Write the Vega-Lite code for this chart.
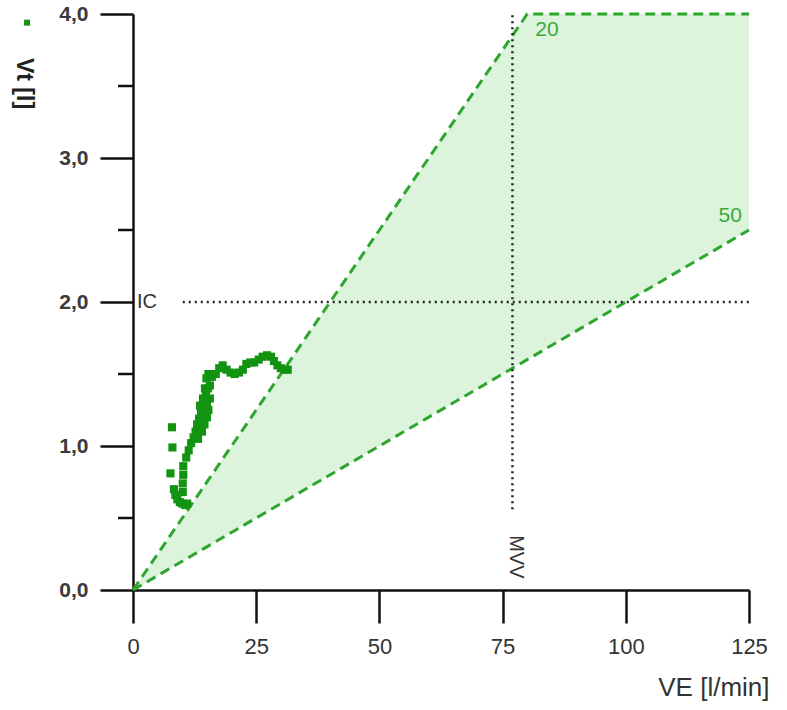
{
  "$schema": "https://vega.github.io/schema/vega-lite/v6.json",
  "width": 616,
  "height": 576,
  "autosize": "none",
  "padding": {"left": 133, "top": 14, "right": 38, "bottom": 120},
  "background": "white",
  "config": {
    "view": {"stroke": null},
    "font": "Liberation Sans"
  },
  "datasets": {
    "breath": [
      {"ve": 7.9, "vt": 1.13}, {"ve": 8.0, "vt": 0.99}, {"ve": 7.6, "vt": 0.81},
      {"ve": 8.3, "vt": 0.70}, {"ve": 8.6, "vt": 0.66}, {"ve": 9.0, "vt": 0.63}, {"ve": 9.5, "vt": 0.61}, {"ve": 10.0, "vt": 0.60}, {"ve": 10.6, "vt": 0.59}, {"ve": 11.0, "vt": 0.60},
      {"ve": 10.1, "vt": 0.68}, {"ve": 10.1, "vt": 0.74}, {"ve": 10.2, "vt": 0.80}, {"ve": 10.2, "vt": 0.86},
      {"ve": 10.8, "vt": 0.92}, {"ve": 11.3, "vt": 0.97}, {"ve": 11.8, "vt": 1.02}, {"ve": 12.3, "vt": 1.06}, {"ve": 12.7, "vt": 1.10}, {"ve": 13.0, "vt": 1.15}, {"ve": 13.4, "vt": 1.19}, {"ve": 13.8, "vt": 1.23}, {"ve": 14.2, "vt": 1.27}, {"ve": 14.6, "vt": 1.31},
      {"ve": 13.5, "vt": 1.13}, {"ve": 14.0, "vt": 1.10}, {"ve": 14.5, "vt": 1.15}, {"ve": 15.0, "vt": 1.20}, {"ve": 15.3, "vt": 1.25}, {"ve": 14.8, "vt": 1.35}, {"ve": 15.2, "vt": 1.40}, {"ve": 15.6, "vt": 1.42},
      {"ve": 13.9, "vt": 1.18}, {"ve": 14.4, "vt": 1.22}, {"ve": 15.0, "vt": 1.28}, {"ve": 14.2, "vt": 1.33}, {"ve": 13.6, "vt": 1.28}, {"ve": 15.6, "vt": 1.33}, {"ve": 14.6, "vt": 1.40}, {"ve": 13.2, "vt": 1.05},
      {"ve": 14.9, "vt": 1.47}, {"ve": 15.3, "vt": 1.50}, {"ve": 16.0, "vt": 1.48}, {"ve": 16.8, "vt": 1.50}, {"ve": 17.5, "vt": 1.54}, {"ve": 18.2, "vt": 1.56}, {"ve": 19.0, "vt": 1.53}, {"ve": 19.8, "vt": 1.51},
      {"ve": 20.6, "vt": 1.50}, {"ve": 21.5, "vt": 1.51}, {"ve": 22.3, "vt": 1.53}, {"ve": 23.0, "vt": 1.57}, {"ve": 23.8, "vt": 1.58}, {"ve": 24.6, "vt": 1.58}, {"ve": 25.5, "vt": 1.60}, {"ve": 26.3, "vt": 1.62},
      {"ve": 27.2, "vt": 1.63}, {"ve": 28.0, "vt": 1.62}, {"ve": 28.6, "vt": 1.59}, {"ve": 29.3, "vt": 1.56}, {"ve": 30.0, "vt": 1.54}, {"ve": 30.8, "vt": 1.53}, {"ve": 31.4, "vt": 1.53}
    ],
    "zone": [
      {"ve": 0, "upper": 0, "lower": 0},
      {"ve": 80, "upper": 4, "lower": 1.6},
      {"ve": 125, "upper": 4, "lower": 2.5}
    ],
    "bounds": [
      {"line": "20", "ve": 0, "vt": 0}, {"line": "20", "ve": 80, "vt": 4}, {"line": "20", "ve": 125, "vt": 4},
      {"line": "50", "ve": 0, "vt": 0}, {"line": "50", "ve": 125, "vt": 2.5}
    ]
  },
  "layer": [
    {
      "data": {"name": "zone"},
      "mark": {"type": "area", "color": "#dcf4dc", "opacity": 1},
      "encoding": {
        "x": {"field": "ve", "type": "quantitative", "scale": {"domain": [0, 125], "nice": false},
          "axis": {"values": [0, 25, 50, 75, 100, 125], "grid": false, "domainColor": "#111", "domainWidth": 2.5, "tickColor": "#111", "tickWidth": 2.5, "tickSize": 33, "labelFlush": false, "labelFontSize": 22, "labelPadding": 13, "labelColor": "#333", "title": "VE [l/min]", "titleFontSize": 26, "titleFontWeight": "normal", "titleColor": "#333", "titleAlign": "right", "titleX": 636, "titleY": 105, "titleBaseline": "alphabetic"}},
        "y": {"field": "upper", "type": "quantitative", "scale": {"domain": [0, 4], "nice": false},
          "axis": {"values": [0, 1, 2, 3, 4], "grid": false, "domainColor": "#111", "domainWidth": 2.5, "tickColor": "#111", "tickWidth": 2.5, "tickSize": 33, "labelFlush": false, "labelFontSize": 21, "labelPadding": 12, "labelColor": "#3a3a3a", "labelExpr": "replace(format(datum.value, '.1f'), '.', ',')", "labelFontWeight": "bold", "title": "Vt [l]", "titleAngle": 90, "titleFontSize": 23, "titleFontWeight": "bold", "titleColor": "#222", "titleX": -110, "titleY": 69, "titleAlign": "center", "titleBaseline": "middle"}},
        "y2": {"field": "lower"}
      }
    },
    {
      "data": {"values": [{"m": 0.5}, {"m": 1.5}, {"m": 2.5}, {"m": 3.5}]},
      "mark": {"type": "rule", "color": "#111", "strokeWidth": 2.5},
      "encoding": {"y": {"field": "m", "type": "quantitative"}, "x": {"datum": -3.04}, "x2": {"datum": 0}}
    },
    {
      "data": {"name": "bounds"},
      "mark": {"type": "line", "color": "#2ea52e", "strokeWidth": 3, "strokeDash": [10, 6]},
      "encoding": {"x": {"field": "ve", "type": "quantitative"}, "y": {"field": "vt", "type": "quantitative"}, "detail": {"field": "line"}}
    },
    {
      "data": {"values": [{"lbl": "IC", "ve0": 10.1, "ve1": 125, "vt": 2}]},
      "mark": {"type": "rule", "color": "#222", "strokeWidth": 2.5, "strokeDash": [2, 4]},
      "encoding": {"x": {"field": "ve0", "type": "quantitative"}, "x2": {"field": "ve1"}, "y": {"field": "vt", "type": "quantitative"}}
    },
    {
      "data": {"values": [{"lbl": "MVV", "ve": 77, "vt0": 0.56, "vt1": 4}]},
      "mark": {"type": "rule", "color": "#222", "strokeWidth": 2.5, "strokeDash": [2, 4]},
      "encoding": {"x": {"field": "ve", "type": "quantitative"}, "y": {"field": "vt0", "type": "quantitative"}, "y2": {"field": "vt1"}}
    },
    {
      "data": {"values": [{"t": "IC", "ve": 0.8, "vt": 2.0}]},
      "mark": {"type": "text", "align": "left", "baseline": "middle", "fontSize": 20, "color": "#333"},
      "encoding": {"x": {"field": "ve", "type": "quantitative"}, "y": {"field": "vt", "type": "quantitative"}, "text": {"field": "t"}}
    },
    {
      "data": {"values": [{"t": "MVV", "ve": 77.7, "vt": 0.23}]},
      "mark": {"type": "text", "align": "center", "baseline": "middle", "angle": 90, "fontSize": 20, "color": "#333"},
      "encoding": {"x": {"field": "ve", "type": "quantitative"}, "y": {"field": "vt", "type": "quantitative"}, "text": {"field": "t"}}
    },
    {
      "data": {"values": [{"t": "20", "ve": 84.0, "vt": 3.89}, {"t": "50", "ve": 121.2, "vt": 2.6}]},
      "mark": {"type": "text", "align": "center", "baseline": "middle", "fontSize": 21, "color": "#3aaa3a"},
      "encoding": {"x": {"field": "ve", "type": "quantitative"}, "y": {"field": "vt", "type": "quantitative"}, "text": {"field": "t"}}
    },
    {
      "data": {"name": "breath"},
      "mark": {"type": "square", "color": "#129412", "opacity": 1, "size": 66},
      "encoding": {"x": {"field": "ve", "type": "quantitative"}, "y": {"field": "vt", "type": "quantitative"}}
    },
    {
      "data": {"values": [{"k": "Vt"}]},
      "mark": {"type": "square", "color": "#129412", "opacity": 1, "size": 36},
      "encoding": {"x": {"datum": -21.5}, "y": {"datum": 3.94}}
    }
  ]
}
